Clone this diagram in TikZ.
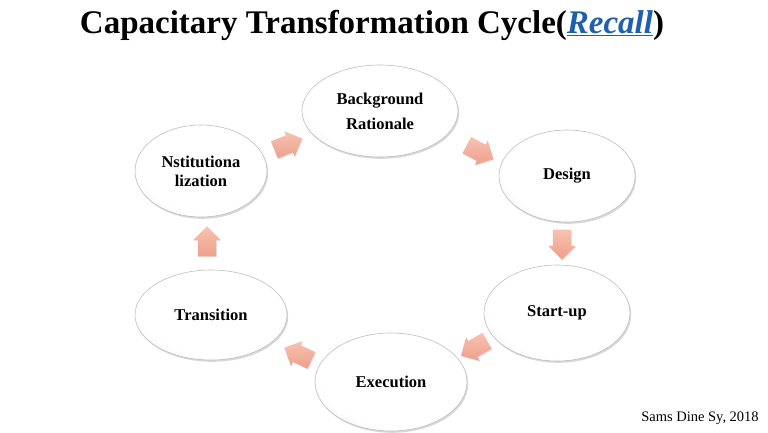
\documentclass[tikz,border=0pt]{standalone}
\usepackage{fontspec}
\setmainfont{Liberation Serif}
\usetikzlibrary{shapes.geometric,shapes.arrows,shadows}
\definecolor{linkblue}{HTML}{1F5FAE}
\definecolor{arrowlight}{HTML}{F8C2B1}
\definecolor{arrowdark}{HTML}{EE9F8C}
\pgfdeclareradialshading{stageshade}{\pgfpoint{10bp}{10bp}}{%
  color(0bp)=(white); color(30bp)=(white); color(45bp)=(gray!18); color(60bp)=(gray!45); color(80bp)=(gray!45)}
\begin{document}
\begin{tikzpicture}[x=1pt,y=-1pt,
  stage/.style={ellipse, draw=gray!50, line width=0.6pt, inner sep=0pt,
    shading=stageshade,
    drop shadow={shadow xshift=1.2pt, shadow yshift=-1.8pt, opacity=0.3, fill=gray},
    align=center, font=\bfseries\fontsize{16.5}{19}\selectfont},
  flow/.style={single arrow, inner xsep=0pt, inner ysep=9pt, minimum height=30pt, minimum width=27pt,
    single arrow head extend=4.5pt, single arrow head indent=0pt, draw=none,
    top color=arrowlight, bottom color=arrowdark,
    drop shadow={shadow xshift=0.8pt, shadow yshift=-1pt, opacity=0.2, fill=gray}}]
\useasboundingbox[fill=white] (0,0) rectangle (768,432);
% title
\node[anchor=base, inner sep=0pt, font=\bfseries\fontsize{33}{38}\selectfont] (title) at (372,33)
  {Capacitary Transformation Cycle(\textcolor{linkblue}{\underline{\itshape Recall}})};
% stages
\node[stage, minimum width=156pt, minimum height=92pt, font=\bfseries\fontsize{16.5}{25}\selectfont] (bg) at (380,111) {Background\\Rationale};
\node[stage, minimum width=136pt, minimum height=92pt] (design) at (567,176) {Design};
\node[stage, minimum width=146pt, minimum height=96pt] (startup) at (557,313) {Start-up};
\node[stage, minimum width=152pt, minimum height=98pt] (exec) at (391,382) {Execution};
\node[stage, minimum width=152pt, minimum height=90pt] (trans) at (211,315) {Transition};
\node[stage, minimum width=132pt, minimum height=92pt] (inst) at (201,171) {Nstitutiona\\lization};
% flow arrows
\node[flow, rotate=-28] (a1) at (476,150) {};
\node[flow, rotate=-90] (a2) at (562,240) {};
\node[flow, rotate=-150] (a3) at (478,346) {};
\node[flow, rotate=155] (a4) at (302,356) {};
\node[flow, rotate=90] (a5) at (207,246) {};
\node[flow, rotate=22] (a6) at (284,146) {};
% credit
\node[anchor=base, inner sep=0pt, font=\fontsize{14.5}{16}\selectfont] (credit) at (700,421) {Sams Dine Sy, 2018};
\end{tikzpicture}
\end{document}
